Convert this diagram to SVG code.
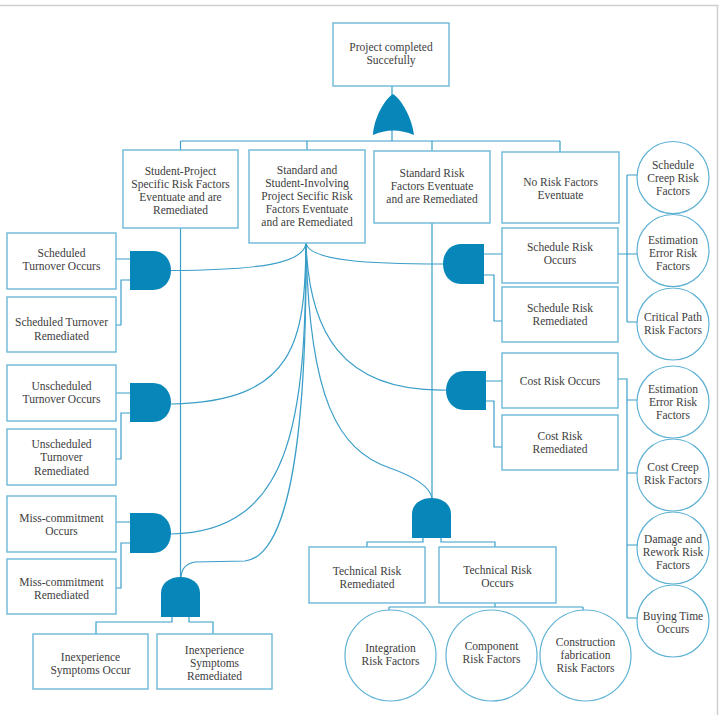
<svg xmlns="http://www.w3.org/2000/svg" width="720" height="715" viewBox="0 0 720 715">
<style>
.box{fill:#fff;stroke:#6bb9d8;stroke-width:1.4}
.circ{fill:#fff;stroke:#5fb2d4;stroke-width:1.2}
.gate{fill:#0686b9;stroke:none}
.ln{fill:none;stroke:#3a9ec8;stroke-width:1.2}
.frame{fill:none;stroke:#cfcfcf;stroke-width:1.5}
text{font-family:"Liberation Serif","DejaVu Serif",serif;font-size:11.5px;fill:#3d3d3d;text-anchor:middle}
</style>
<rect width="720" height="715" fill="#fff"/>
<path class="frame" d="M0,5.5 H717.5 V715"/>
<g id="connectors">
<path class="ln" d="M392,86 V141 M180.5,141 H560 M180.5,141 V150 M307,141 V150 M432,141 V151 M560,141 V152"/>
<path class="ln" d="M180.5,228 V577 M432,223 V498"/>
<path class="ln" d="M116,259 H130 M130,280 H121 V325 H116"/>
<path class="ln" d="M116,393 H130 M130,413 H121 V459 H116"/>
<path class="ln" d="M116,522 H130 M130,543 H121 V588 H116"/>
<path class="ln" d="M172,617 V622 H96 V634 M189,617 V622 H213 V634"/>
<path class="ln" d="M423,538 V542 H367 V547 M441,538 V542 H495 V547"/>
<path class="ln" d="M495,603 V607 M389,607 H583 M389,607 V610 M583,607 V610"/>
<path class="ln" d="M484,254 H502 M484,275 H494 V321 H502"/>
<path class="ln" d="M486,381 H502 M486,401 H494 V447 H502"/>
<path class="ln" d="M618,254 H638 M627,175 V322 M627,175 H638 M627,322 H638"/>
<path class="ln" d="M618,379 H627 V618 M627,400 H638 M627,473 H638 M627,545 H638 M627,618 H638"/>
<path class="ln" d="M306,243 C304,263 262,270 171,270.5"/>
<path class="ln" d="M306,243 C309,261 370,264 443,264"/>
<path class="ln" d="M306,243 C305,340 296,402 171,404"/>
<path class="ln" d="M306,243 C306,420 292,532 171,534"/>
<path class="ln" d="M306,243 C307,430 290,556 245,561 L195,562 Q182,564 181,577"/>
<path class="ln" d="M306,243 C309,330 340,392 446,390"/>
<path class="ln" d="M306,243 C309,400 338,450 390,468 Q429,482 432,498"/>
</g>
<g id="gate-top"><path class="gate" d="M393,94 C402,100 412,118 414,135 Q393,126 373,135 C374,118 384,100 393,94 Z"/></g>
<g id="gate-1"><path class="gate" d="M130,251 H153 C164,251 171,260 171,270.5 C171,281 164,290 153,290 H130 Z"/></g>
<g id="gate-2"><path class="gate" d="M130,383 H153 C164,383 171,392 171,402.5 C171,413 164,422 153,422 H130 Z"/></g>
<g id="gate-3"><path class="gate" d="M130,513 H153 C164,513 171,522 171,533 C171,544 164,553 153,553 H130 Z"/></g>
<g id="gate-4"><path class="gate" d="M161,617 V593 C161,583 170,577 180.5,577 C191,577 200,583 200,593 V617 Z"/></g>
<g id="gate-5"><path class="gate" d="M412,538 V514 C412,504 421,498 431.5,498 C442,498 451,504 451,514 V538 Z"/></g>
<g id="gate-6"><path class="gate" d="M484,244 H461 C450,244 443,253 443,264 C443,275 450,284 461,284 H484 Z"/></g>
<g id="gate-7"><path class="gate" d="M486,371 H464 C453,371 446,380 446,390.5 C446,401 453,410 464,410 H486 Z"/></g>
<g id="top"><rect class="box" x="333" y="23" width="116" height="63"/><text x="391" y="51">Project completed</text><text x="391" y="64">Succefully</text></g>
<g id="student-project"><rect class="box" x="123" y="150" width="115" height="78"/><text x="180.5" y="175">Student-Project</text><text x="180.5" y="188">Specific Risk Factors</text><text x="180.5" y="201">Eventuate and are</text><text x="180.5" y="214">Remediated</text></g>
<g id="standard-student"><rect class="box" x="249" y="150" width="116" height="93"/><text x="307" y="174">Standard and</text><text x="307" y="187">Student-Involving</text><text x="307" y="200">Project Secific Risk</text><text x="307" y="213">Factors Eventuate</text><text x="307" y="226">and are Remediated</text></g>
<g id="standard"><rect class="box" x="374" y="151" width="116" height="72"/><text x="432" y="177">Standard Risk</text><text x="432" y="190">Factors Eventuate</text><text x="432" y="203">and are Remediated</text></g>
<g id="no-risk"><rect class="box" x="502" y="152" width="117" height="71"/><text x="560.5" y="186">No Risk Factors</text><text x="560.5" y="199">Eventuate</text></g>
<g id="sched-turnover-occ"><rect class="box" x="7" y="233" width="109" height="56"/><text x="61.5" y="257">Scheduled</text><text x="61.5" y="270">Turnover Occurs</text></g>
<g id="sched-turnover-rem"><rect class="box" x="7" y="297" width="109" height="55"/><text x="61.5" y="326">Scheduled Turnover</text><text x="61.5" y="339.5">Remediated</text></g>
<g id="unsched-occ"><rect class="box" x="7" y="365" width="109" height="56"/><text x="61.5" y="390">Unscheduled</text><text x="61.5" y="403">Turnover Occurs</text></g>
<g id="unsched-rem"><rect class="box" x="7" y="429" width="109" height="56"/><text x="61.5" y="448">Unscheduled</text><text x="61.5" y="461">Turnover</text><text x="61.5" y="474.5">Remediated</text></g>
<g id="miss-occ"><rect class="box" x="7" y="496" width="109" height="56"/><text x="61.5" y="522">Miss-commitment</text><text x="61.5" y="535">Occurs</text></g>
<g id="miss-rem"><rect class="box" x="7" y="559" width="109" height="55"/><text x="61.5" y="586">Miss-commitment</text><text x="61.5" y="599">Remediated</text></g>
<g id="inexp-occ"><rect class="box" x="33" y="634" width="115" height="55"/><text x="90.5" y="661">Inexperience</text><text x="90.5" y="674">Symptoms Occur</text></g>
<g id="inexp-rem"><rect class="box" x="157" y="634" width="115" height="55"/><text x="214.5" y="654">Inexperience</text><text x="214.5" y="667">Symptoms</text><text x="214.5" y="680">Remediated</text></g>
<g id="tech-rem"><rect class="box" x="309" y="547" width="116" height="56"/><text x="367" y="575">Technical Risk</text><text x="367" y="588">Remediated</text></g>
<g id="tech-occ"><rect class="box" x="439" y="547" width="117" height="56"/><text x="497.5" y="574">Technical Risk</text><text x="497.5" y="587">Occurs</text></g>
<g id="integration"><circle class="circ" cx="390.5" cy="655.5" r="45.5"/><text x="390.5" y="652">Integration</text><text x="390.5" y="665">Risk Factors</text></g>
<g id="component"><circle class="circ" cx="491.5" cy="655.5" r="45.5"/><text x="491.5" y="650">Component</text><text x="491.5" y="663">Risk Factors</text></g>
<g id="construction"><circle class="circ" cx="585.5" cy="655.5" r="45.5"/><text x="585.5" y="646">Construction</text><text x="585.5" y="659">fabrication</text><text x="585.5" y="672">Risk Factors</text></g>
<g id="sched-risk-occ"><rect class="box" x="502" y="228" width="116" height="55"/><text x="560" y="251">Schedule Risk</text><text x="560" y="264">Occurs</text></g>
<g id="sched-risk-rem"><rect class="box" x="502" y="287" width="116" height="55"/><text x="560" y="312">Schedule Risk</text><text x="560" y="325">Remediated</text></g>
<g id="cost-risk-occ"><rect class="box" x="502" y="353" width="116" height="55"/><text x="560" y="385">Cost Risk Occurs</text></g>
<g id="cost-risk-rem"><rect class="box" x="502" y="415" width="116" height="55"/><text x="560" y="440">Cost Risk</text><text x="560" y="453">Remediated</text></g>
<g id="sched-creep"><circle class="circ" cx="673" cy="177.5" r="36"/><text x="673" y="169">Schedule</text><text x="673" y="182">Creep Risk</text><text x="673" y="195">Factors</text></g>
<g id="est-error-1"><circle class="circ" cx="673" cy="250.5" r="36"/><text x="673" y="244">Estimation</text><text x="673" y="257">Error Risk</text><text x="673" y="270">Factors</text></g>
<g id="critical-path"><circle class="circ" cx="673" cy="324" r="36"/><text x="673" y="321">Critical Path</text><text x="673" y="334">Risk Factors</text></g>
<g id="est-error-2"><circle class="circ" cx="673" cy="402" r="36"/><text x="673" y="393">Estimation</text><text x="673" y="406">Error Risk</text><text x="673" y="419">Factors</text></g>
<g id="cost-creep"><circle class="circ" cx="673" cy="475" r="36"/><text x="673" y="471">Cost Creep</text><text x="673" y="484">Risk Factors</text></g>
<g id="damage"><circle class="circ" cx="673" cy="548" r="36"/><text x="673" y="543">Damage and</text><text x="673" y="556">Rework Risk</text><text x="673" y="569">Factors</text></g>
<g id="buying-time"><circle class="circ" cx="673" cy="621" r="36"/><text x="673" y="620">Buying Time</text><text x="673" y="633">Occurs</text></g>
</svg>
